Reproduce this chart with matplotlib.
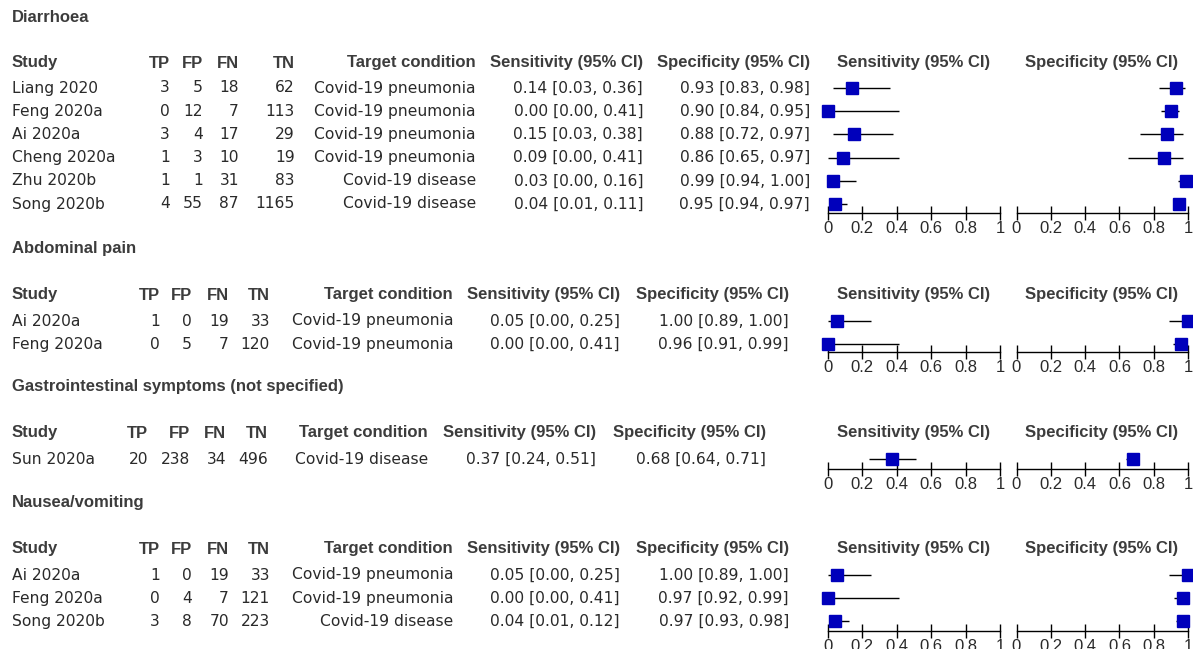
import matplotlib.pyplot as plt

# ---- data -------------------------------------------------------------
section_titles = ["Diarrhoea", "Abdominal pain",
                  "Gastrointestinal symptoms (not specified)", "Nausea/vomiting"]

diar_studies = ["Liang 2020", "Feng 2020a", "Ai 2020a", "Cheng 2020a", "Zhu 2020b", "Song 2020b"]
diar_tp = [3, 0, 3, 1, 1, 4]
diar_fp = [5, 12, 4, 3, 1, 55]
diar_fn = [18, 7, 17, 10, 31, 87]
diar_tn = [62, 113, 29, 19, 83, 1165]
diar_target = ["Covid-19 pneumonia"] * 4 + ["Covid-19 disease"] * 2
diar_sens = [0.14, 0.00, 0.15, 0.09, 0.03, 0.04]
diar_sens_lo = [0.03, 0.00, 0.03, 0.00, 0.00, 0.01]
diar_sens_hi = [0.36, 0.41, 0.38, 0.41, 0.16, 0.11]
diar_spec = [0.93, 0.90, 0.88, 0.86, 0.99, 0.95]
diar_spec_lo = [0.83, 0.84, 0.72, 0.65, 0.94, 0.94]
diar_spec_hi = [0.98, 0.95, 0.97, 0.97, 1.00, 0.97]

abd_studies = ["Ai 2020a", "Feng 2020a"]
abd_tp = [1, 0]
abd_fp = [0, 5]
abd_fn = [19, 7]
abd_tn = [33, 120]
abd_target = ["Covid-19 pneumonia", "Covid-19 pneumonia"]
abd_sens = [0.05, 0.00]
abd_sens_lo = [0.00, 0.00]
abd_sens_hi = [0.25, 0.41]
abd_spec = [1.00, 0.96]
abd_spec_lo = [0.89, 0.91]
abd_spec_hi = [1.00, 0.99]

gi_studies = ["Sun 2020a"]
gi_tp = [20]
gi_fp = [238]
gi_fn = [34]
gi_tn = [496]
gi_target = ["Covid-19 disease"]
gi_sens = [0.37]
gi_sens_lo = [0.24]
gi_sens_hi = [0.51]
gi_spec = [0.68]
gi_spec_lo = [0.64]
gi_spec_hi = [0.71]

nv_studies = ["Ai 2020a", "Feng 2020a", "Song 2020b"]
nv_tp = [1, 0, 3]
nv_fp = [0, 4, 8]
nv_fn = [19, 7, 70]
nv_tn = [33, 121, 223]
nv_target = ["Covid-19 pneumonia", "Covid-19 pneumonia", "Covid-19 disease"]
nv_sens = [0.05, 0.00, 0.04]
nv_sens_lo = [0.00, 0.00, 0.01]
nv_sens_hi = [0.25, 0.41, 0.12]
nv_spec = [1.00, 0.97, 0.97]
nv_spec_lo = [0.89, 0.92, 0.93]
nv_spec_hi = [1.00, 0.99, 0.98]

tick_vals = [0, 0.2, 0.4, 0.6, 0.8, 1]
tick_labels = ["0", "0.2", "0.4", "0.6", "0.8", "1"]

sections = [
    (diar_studies, diar_tp, diar_fp, diar_fn, diar_tn, diar_target,
     diar_sens, diar_sens_lo, diar_sens_hi, diar_spec, diar_spec_lo, diar_spec_hi),
    (abd_studies, abd_tp, abd_fp, abd_fn, abd_tn, abd_target,
     abd_sens, abd_sens_lo, abd_sens_hi, abd_spec, abd_spec_lo, abd_spec_hi),
    (gi_studies, gi_tp, gi_fp, gi_fn, gi_tn, gi_target,
     gi_sens, gi_sens_lo, gi_sens_hi, gi_spec, gi_spec_lo, gi_spec_hi),
    (nv_studies, nv_tp, nv_fp, nv_fn, nv_tn, nv_target,
     nv_sens, nv_sens_lo, nv_sens_hi, nv_spec, nv_spec_lo, nv_spec_hi),
]

# ---- layout (pixels) ---------------------------------------------------
W, H = 1193, 649
STEP = 23.2
layouts = [
    dict(title_y=17, head_y=63, row0=88, axis_y=213,
         cols=[12, 170, 203, 239, 295, 476, 643, 810]),
    dict(title_y=248, head_y=295, row0=321, axis_y=352,
         cols=[12, 160, 192, 229, 270, 453, 620, 789]),
    dict(title_y=387, head_y=433, row0=459, axis_y=469,
         cols=[12, 148, 190, 226, 268, 428, 596, 766]),
    dict(title_y=502, head_y=549, row0=575, axis_y=631,
         cols=[12, 160, 192, 229, 270, 453, 620, 789]),
]
forest_x = [(828, 1000), (1016.5, 1188)]
forest_head_x = [914, 1102]

HEAD = dict(family="Liberation Sans", weight="bold", size=12, color="#3c3c3c", va="center")
BODY = dict(family="DejaVu Sans", size=11.2, color="#2a2a2a", va="center")
BLUE = "#0000bb"

fig = plt.figure(figsize=(W / 100, H / 100), dpi=100)
bg = fig.add_axes([0, 0, 1, 1])
bg.set_xlim(0, W)
bg.set_ylim(H, 0)
bg.axis("off")

headers = ["Study", "TP", "FP", "FN", "TN", "Target condition",
           "Sensitivity (95% CI)", "Specificity (95% CI)"]

for title, data, lay in zip(section_titles, sections, layouts):
    (studies, tp, fp, fn, tn, target,
     sens, sens_lo, sens_hi, spec, spec_lo, spec_hi) = data
    cols = lay["cols"]

    bg.text(12, lay["title_y"], title, ha="left", **HEAD)
    for i, h in enumerate(headers):
        bg.text(cols[i], lay["head_y"], h, ha="left" if i == 0 else "right", **HEAD)
    for hx, h in zip(forest_head_x, headers[6:]):
        bg.text(hx, lay["head_y"], h, ha="center", **HEAD)

    for i in range(len(studies)):
        y = lay["row0"] + i * STEP
        vals = [studies[i], str(tp[i]), str(fp[i]), str(fn[i]), str(tn[i]), target[i],
                f"{sens[i]:.2f} [{sens_lo[i]:.2f}, {sens_hi[i]:.2f}]",
                f"{spec[i]:.2f} [{spec_lo[i]:.2f}, {spec_hi[i]:.2f}]"]
        for j, v in enumerate(vals):
            bg.text(cols[j], y, v, ha="left" if j == 0 else "right", **BODY)

    # forest plots
    n = len(studies)
    top_px = lay["row0"] - 14
    for (x0, x1), est, lo, hi in zip(forest_x,
                                      [sens, spec], [sens_lo, spec_lo], [sens_hi, spec_hi]):
        ax = fig.add_axes([x0 / W, (H - lay["axis_y"]) / H,
                           (x1 - x0) / W, (lay["axis_y"] - top_px) / H])
        ax.set_xlim(0, 1)
        ax.set_ylim((lay["axis_y"] - lay["row0"]) / STEP, (top_px - lay["row0"]) / STEP)
        ax.patch.set_alpha(0)
        for s in ["top", "left", "right"]:
            ax.spines[s].set_visible(False)
        ax.spines["bottom"].set_linewidth(1.0)
        ax.set_yticks([])
        ax.set_xticks(tick_vals)
        ax.set_xticklabels(tick_labels, family="Liberation Sans", color="#2a2a2a")
        ax.tick_params(axis="x", direction="inout", length=10, width=1.0,
                       labelsize=12, pad=1)
        rows = list(range(n))
        ax.hlines(rows, lo, hi, color="black", lw=1.0, clip_on=False)
        ax.plot(est, rows, "s", color=BLUE, markersize=8, clip_on=False, zorder=3)

fig.savefig("out.png", dpi=100)
